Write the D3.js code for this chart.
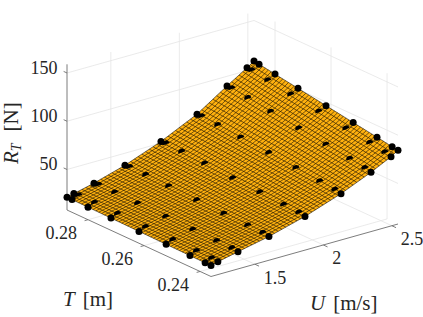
<!DOCTYPE html>
<html>
<head>
<meta charset="utf-8">
<script src="https://cdn.jsdelivr.net/npm/d3@7"></script>
<style>
  body { margin: 0; background: #fff; }
  text { font-family: "Liberation Serif", serif; fill: #262626; }
</style>
</head>
<body>
<script>
// tick labels
var tickU = [1.5, 2, 2.5];
var tickT = [0.28, 0.26, 0.24];
var tickZ = [50, 100, 150];

// measured points: speed and draft nodes
var nodesU = [1.18, 1.23, 1.377, 1.603, 1.866, 2.129, 2.348, 2.494, 2.545];
var nodesT = [0.2875, 0.2857, 0.28, 0.2718, 0.2618, 0.2521, 0.2436, 0.2382, 0.2361];

// R_T read at every node, one row per draft, one column per speed
var resistance = [
  [21.3, 23.0, 28.0, 37.5, 51.7, 69.5, 90.0, 103.0, 108.0],
  [21.2, 22.9, 27.9, 37.3, 51.3, 69.0, 89.2, 102.0, 107.1],
  [21.0, 22.7, 27.6, 36.8, 50.4, 67.6, 86.9, 99.4, 104.5],
  [20.7, 22.4, 27.2, 36.0, 49.0, 65.5, 83.6, 95.7, 100.7],
  [20.3, 22.0, 26.8, 35.0, 47.3, 63.0, 79.7, 91.3, 96.2],
  [19.9, 21.7, 26.4, 34.0, 45.6, 60.3, 75.9, 86.9, 91.7],
  [19.6, 21.5, 26.1, 33.3, 44.2, 58.1, 72.6, 83.3, 87.9],
  [19.4, 21.3, 25.9, 32.8, 43.3, 56.6, 70.3, 80.7, 85.3],
  [19.3, 21.2, 25.8, 32.6, 42.9, 56.0, 69.5, 79.8, 84.4]
];

var width = 423, height = 317;
var meshCells = 50;

var svg = d3.select("body").append("svg").attr("width", width).attr("height", height);

// axis limits
var uLim = [1.18, 2.545], tLim = [0.2875, 0.2361], zLim = [8, 159];

// fixed 3D view, each data axis moves the point along its own screen direction
var uX = d3.scaleLinear().domain(uLim).range([0, 187]);
var uY = d3.scaleLinear().domain(uLim).range([0, -52.5]);
var tX = d3.scaleLinear().domain(tLim).range([0, 144]);
var tY = d3.scaleLinear().domain(tLim).range([0, 66.5]);
var zY = d3.scaleLinear().domain(zLim).range([0, -145.7]);

function project(u, t, z) {
  return [67 + uX(u) + tX(t), 210 + uY(u) + tY(t) + zY(z)];
}

var line = d3.line();

function seg(a, b, color, w, parent) {
  (parent || svg).append("path")
    .attr("d", line([a, b]))
    .attr("fill", "none")
    .attr("stroke", color)
    .attr("stroke-width", w);
}

// grid on the floor and the two back walls
var grid = svg.append("g");
var gridColor = "#e4e4e4";
tickU.forEach(function(u) {
  seg(project(u, tLim[1], zLim[0]), project(u, tLim[0], zLim[0]), gridColor, 0.8, grid);
  seg(project(u, tLim[0], zLim[0]), project(u, tLim[0], zLim[1]), gridColor, 0.8, grid);
});
tickT.forEach(function(t) {
  seg(project(uLim[0], t, zLim[0]), project(uLim[1], t, zLim[0]), gridColor, 0.8, grid);
  seg(project(uLim[1], t, zLim[0]), project(uLim[1], t, zLim[1]), gridColor, 0.8, grid);
});
tickZ.forEach(function(z) {
  seg(project(uLim[0], tLim[0], z), project(uLim[1], tLim[0], z), gridColor, 0.8, grid);
  seg(project(uLim[1], tLim[0], z), project(uLim[1], tLim[1], z), gridColor, 0.8, grid);
});

// axis lines and tick marks
var axisColor = "#6e6e6e";
seg(project(uLim[0], tLim[0], zLim[0]), project(uLim[0], tLim[0], zLim[1]), axisColor, 0.9);
seg(project(uLim[0], tLim[0], zLim[0]), project(uLim[0], tLim[1], zLim[0]), axisColor, 0.9);
seg(project(uLim[0], tLim[1], zLim[0]), project(uLim[1], tLim[1], zLim[0]), axisColor, 0.9);

tickZ.forEach(function(z) {
  seg(project(uLim[0], tLim[0], z), project(uLim[0], tLim[0] + 0.0012, z), axisColor, 0.9);
  svg.append("text").attr("x", 57.5).attr("y", project(uLim[0], tLim[0], z)[1] + 1)
    .attr("text-anchor", "end").attr("font-size", 18).text(z);
});
tickT.forEach(function(t) {
  var p = project(uLim[0], t, zLim[0]);
  seg(p, project(uLim[0] - 0.025, t, zLim[0]), axisColor, 0.9);
  svg.append("text").attr("x", p[0] - 11).attr("y", p[1] + 19.5)
    .attr("text-anchor", "end").attr("font-size", 18).text(d3.format(".2f")(t));
});
tickU.forEach(function(u) {
  var p = project(u, tLim[1], zLim[0]);
  seg(p, project(u, tLim[1] - 0.0015, zLim[0]), axisColor, 0.9);
  svg.append("text").attr("x", p[0] + 9).attr("y", p[1] + 19.5)
    .attr("font-size", 18).text(u);
});

// axis titles
function title(x, y, sym, sub, unit, rotate) {
  var t = svg.append("text").attr("font-size", 21);
  if (rotate) t.attr("transform", "translate(" + x + "," + y + ") rotate(-90)");
  else t.attr("x", x).attr("y", y);
  t.append("tspan").attr("font-style", "italic").text(sym);
  if (sub) t.append("tspan").attr("font-style", "italic").attr("font-size", 14).attr("dy", 3).text(sub);
  t.append("tspan").attr("dx", sub ? 12 : 8).attr("dy", sub ? -3 : 0).text(unit);
}
title(18, 164, "R", "T", "[N]", true);
title(63, 305.5, "T", null, "[m]");
title(310, 310, "U", null, "[m/s]");

// the surface: evenly spaced mesh lines laid over the read table
var rowAt = d3.scaleLinear().domain(nodesT).range(d3.range(nodesT.length));
var colAt = d3.scaleLinear().domain(nodesU).range(d3.range(nodesU.length));
var meshU = d3.scaleLinear().domain([0, meshCells]).range(uLim);
var meshT = d3.scaleLinear().domain([0, meshCells]).range(tLim);

function meshPoint(u, t) {
  var r = rowAt(t), c = colAt(u);
  var i = Math.min(Math.floor(r), nodesT.length - 2), fi = r - i;
  var j = Math.min(Math.floor(c), nodesU.length - 2), fj = c - j;
  var z0 = resistance[i][j] + (resistance[i][j + 1] - resistance[i][j]) * fj;
  var z1 = resistance[i + 1][j] + (resistance[i + 1][j + 1] - resistance[i + 1][j]) * fj;
  return project(u, t, z0 + (z1 - z0) * fi);
}

var steps = d3.range(meshCells + 1);
var outline = []
  .concat(steps.map(function(k) { return meshPoint(meshU(k), tLim[0]); }))
  .concat(steps.map(function(k) { return meshPoint(uLim[1], meshT(k)); }))
  .concat(steps.map(function(k) { return meshPoint(meshU(meshCells - k), tLim[1]); }))
  .concat(steps.map(function(k) { return meshPoint(uLim[0], meshT(meshCells - k)); }));

svg.append("path").attr("d", line(outline) + "Z").attr("fill", "#ffb10f").attr("stroke", "none");

var mesh = svg.append("g").attr("fill", "none").attr("stroke", "#000").attr("stroke-width", 0.55);
steps.forEach(function(a) {
  mesh.append("path").attr("d", line(steps.map(function(b) { return meshPoint(meshU(b), meshT(a)); })));
  mesh.append("path").attr("d", line(steps.map(function(b) { return meshPoint(meshU(a), meshT(b)); })));
});

// markers: those on the rim stand clear, the rest sit half sunk in the surface
var halfDisc = d3.arc().innerRadius(0).outerRadius(3.7)
  .startAngle(-Math.PI / 2 - 0.35).endAngle(Math.PI / 2 - 0.35);
var dots = svg.append("g").attr("fill", "#000");
nodesT.forEach(function(t, i) {
  nodesU.forEach(function(u, j) {
    var p = project(u, t, resistance[i][j]);
    var rim = i === 0 || j === 0 || i === nodesT.length - 1 || j === nodesU.length - 1;
    if (rim) dots.append("circle").attr("cx", p[0]).attr("cy", p[1]).attr("r", 3.5);
    else dots.append("path").attr("d", halfDisc()).attr("transform", "translate(" + p[0] + "," + p[1] + ")");
  });
});
</script>
</body>
</html>
